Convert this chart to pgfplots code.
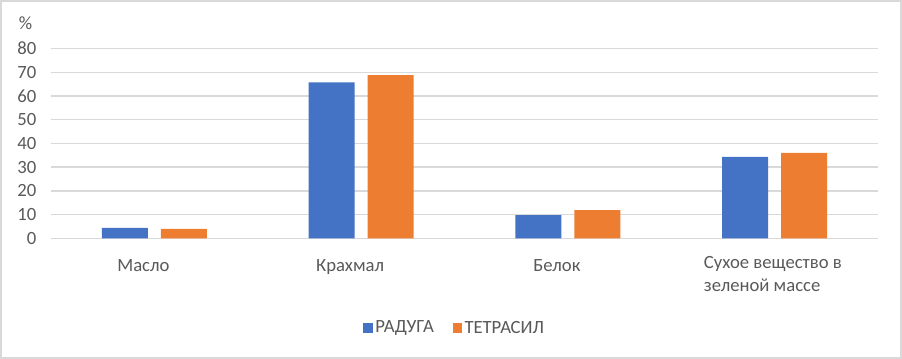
\documentclass[border=0pt]{standalone}
\usepackage{pgfplots}
\pgfplotsset{compat=1.18}
\usepackage{fontspec}
\setmainfont{Carlito}
\definecolor{cblue}{HTML}{4472C4}
\definecolor{corange}{HTML}{ED7D31}
\definecolor{cgrid}{HTML}{D9D9D9}
\definecolor{ctext}{HTML}{595959}
\begin{document}
\begin{tikzpicture}
\useasboundingbox (-38.25pt,-90.5pt) rectangle (638.25pt,178.7pt);
\draw[cgrid, line width=1.1pt] (-37.5pt,-89.75pt) rectangle (637.5pt,177.95pt);
\begin{axis}[
  at={(0,0)}, anchor=south west,
  scale only axis,
  width=620.25pt, height=142.2pt,
  ybar=9.75pt, bar width=34.5pt,
  xmin=-0.5, xmax=3.5,
  ymin=0, ymax=80,
  ytick={0,10,...,80},
  xtick={0,1,2,3},
  xticklabels={Масло,Крахмал,Белок,},
  axis line style={draw=none},
  tick style={draw=none},
  ymajorgrids,
  grid style={cgrid, line width=1.1pt},
  /pgf/number format/assume math mode=true,
  ticklabel style={font=\fontsize{14}{17}\selectfont, text=ctext},
  yticklabel style={xshift=-7.5pt},
  xticklabel style={anchor=base, yshift=-21pt, xshift=-8.25pt},
  legend style={draw=none, at={(0.4885,-0.473)}, anchor=center,
    font=\fontsize{14}{17}\selectfont, text=ctext, legend columns=2,
    /tikz/every even column/.style={column sep=12pt}},
  legend image code/.code={\fill[#1] (0pt,-3.5pt) rectangle (7pt,3.5pt);},
  clip=false,
]
\addplot[fill=cblue, draw=none] coordinates {(0,4.4) (1,65.8) (2,9.8) (3,34.3)};
\addplot[fill=corange, draw=none] coordinates {(0,4.0) (1,68.8) (2,11.9) (3,36.0)};
\legend{РАДУГА,ТЕТРАСИЛ}
\node[anchor=base west, align=left, text=ctext, font=\fontsize{14}{17}\selectfont, inner sep=0pt,
  xshift=-53.25pt, yshift=-40pt]
  at (axis cs:3,0) {Сухое вещество в\\зеленой массе};
\node[text=ctext, font=\fontsize{14}{17}\selectfont, xshift=-19pt, yshift=19.3pt] at (rel axis cs:0,1) {\%};
\end{axis}
\end{tikzpicture}
\end{document}
